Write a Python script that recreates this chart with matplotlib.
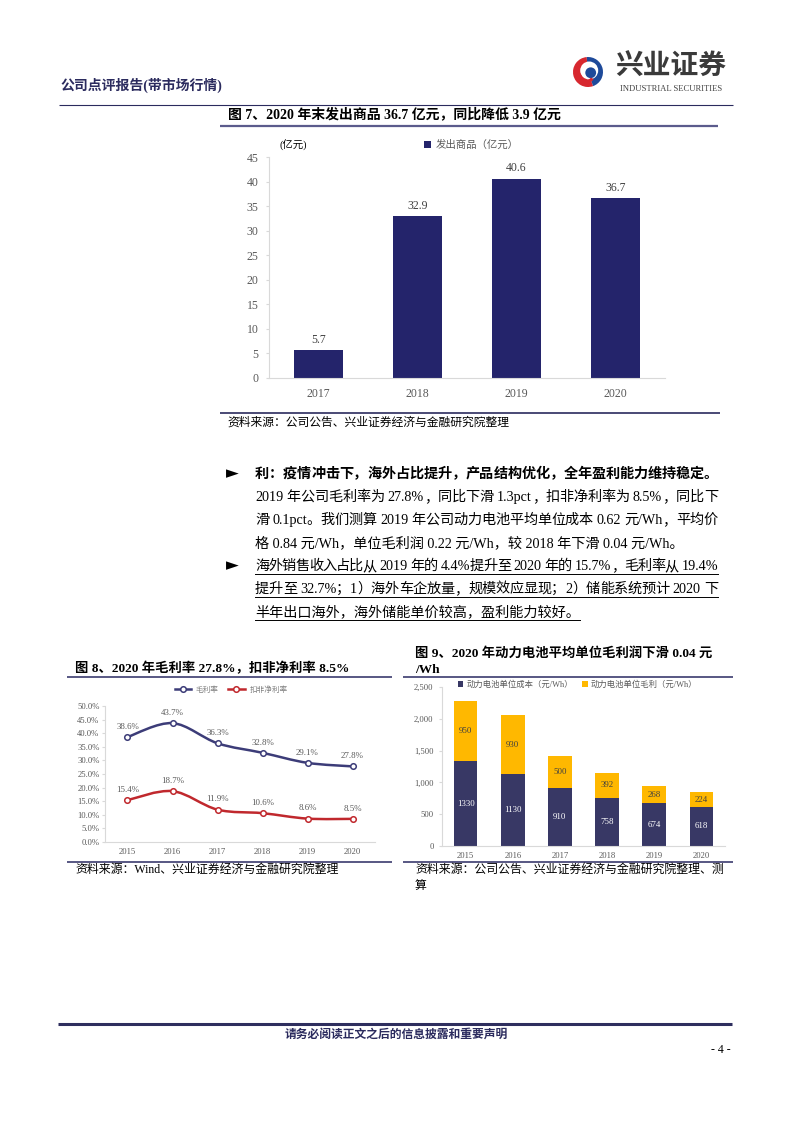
"""Report page 4: figures 7-9 plus the text block between them."""
import re
import numpy as np
import matplotlib
matplotlib.use('Agg')
import matplotlib.pyplot as plt
from matplotlib.patches import Wedge, Circle, Patch, PathPatch
from matplotlib.path import Path
from matplotlib.lines import Line2D
from matplotlib.font_manager import FontProperties
from matplotlib.ticker import FuncFormatter, MultipleLocator

FAM = ['Liberation Serif', 'Noto Sans CJK SC', 'DejaVu Sans']
plt.rcParams['font.family'] = FAM

# ---- data ----
years7 = ['2017', '2018', '2019', '2020']
goods_shipped = [5.7, 32.9, 40.6, 36.7]          # 发出商品（亿元）

years = ['2015', '2016', '2017', '2018', '2019', '2020']
gross_margin = [38.6, 43.7, 36.3, 32.8, 29.1, 27.8]   # 毛利率 %
net_margin = [15.4, 18.7, 11.9, 10.6, 8.6, 8.5]       # 扣非净利率 %

unit_cost = [1330, 1130, 910, 758, 674, 618]          # 元/Wh (x1e-3)
unit_profit = [950, 930, 500, 392, 268, 224]

para1 = ['利：疫情冲击下，海外占比提升，产品结构优化，全年盈利能力维持稳定。',
         '2019 年公司毛利率为 27.8%，同比下滑 1.3pct，扣非净利率为 8.5%，同比下',
         '滑 0.1pct。我们测算 2019 年公司动力电池平均单位成本 0.62 元/Wh，平均价',
         '格 0.84 元/Wh，单位毛利润 0.22 元/Wh，较 2018 年下滑 0.04 元/Wh。']
para2 = ['海外销售收入占比从 2019 年的 4.4%提升至 2020 年的 15.7%，毛利率从 19.4%',
         '提升至 32.7%；1）海外车企放量，规模效应显现；2）储能系统预计 2020 下',
         '半年出口海外，海外储能单价较高，盈利能力较好。']

NAVY = '#2B2B5E'
GREY = '#595959'
W, H = 793, 1122

fig = plt.figure(figsize=(W / 100, H / 100), dpi=100)
ov = fig.add_axes([0, 0, 1, 1])
ov.set_xlim(0, W)
ov.set_ylim(H, 0)
ov.axis('off')
ov.patch.set_visible(False)


def px_axes(x0, y0, x1, y1):
    return fig.add_axes([x0 / W, 1 - y1 / H, (x1 - x0) / W, (y1 - y0) / H])


def hline(y, x0, x1, lw=0.9, color=NAVY):
    ov.plot([x0, x1], [y, y], lw=lw, color=color, solid_capstyle='butt')


def style_axes(ax, size):
    for s in ['top', 'right']:
        ax.spines[s].set_visible(False)
    for s in ['left', 'bottom']:
        ax.spines[s].set_color('#D9D9D9')
        ax.spines[s].set_linewidth(0.8)
    ax.set_facecolor('none')
    ax.tick_params(axis='both', colors='#D9D9D9', labelcolor=GREY, labelsize=size)
    ax.tick_params(axis='x', length=0)


# ---- header ----
ov.text(60, 85, '公司点评报告(带市场行情)', fontsize=10, weight='bold', color=NAVY, va='center')
hline(105, 59, 733, lw=0.8)
lg = fig.add_axes([573 / W, 1 - 87 / H, 30 / W, 30 / H])
lg.set_xlim(-1, 1)
lg.set_ylim(-1, 1)
lg.axis('off')
lg.add_patch(Wedge((0, 0), 1, 95, 290, fc='#D7282F', ec='none'))
lg.add_patch(Wedge((0, 0), 1, -70, 95, fc='#1E4A9A', ec='none'))
lg.add_patch(Circle((0.08, 0.1), 0.6, fc='white', ec='none'))
lg.add_patch(Circle((0.18, -0.05), 0.36, fc='#1E4A9A', ec='none'))
lg.add_patch(Wedge((-0.1, -0.2), 0.55, 180, 330, width=0.22, fc='#D7282F', ec='none'))
ov.text(671, 68, '兴业证券', fontsize=20, weight='bold', color='#3A3A3A', ha='center', va='center')
ov.text(671, 89, 'INDUSTRIAL SECURITIES', fontsize=6.2, color='#444444', ha='center', va='center')

# ---- figure 7 ----
ov.text(228, 114, '图 7、2020 年末发出商品 36.7 亿元，同比降低 3.9 亿元',
        fontsize=10, weight='bold', va='center')
hline(125.5, 220, 718, lw=1.6, color='#5B5B8C')
ax7 = px_axes(269, 157, 665, 378)
x7 = np.arange(len(years7))
ax7.bar(x7, goods_shipped, width=0.5, color='#24246B')
for xi, v in zip(x7, goods_shipped):
    ax7.annotate(f'{v}', (xi, v), xytext=(0, 3), textcoords='offset points',
                 ha='center', va='bottom', fontsize=8.5, color='#404040')
ax7.set_xlim(-0.5, 3.5)
ax7.set_ylim(0, 45)
ax7.yaxis.set_major_locator(MultipleLocator(5))
ax7.set_xticks(x7, years7)
style_axes(ax7, 8.5)
ax7.tick_params(axis='y', length=2.5, pad=5)
ax7.tick_params(axis='x', pad=7)
ax7.legend(handles=[Patch(fc='#24246B')], labels=['发出商品（亿元）'], loc='center',
           bbox_to_anchor=(0.51, 1.054), frameon=False, fontsize=7.5, labelcolor=GREY,
           handlelength=0.7, handleheight=0.7, handletextpad=0.4)
ov.text(280, 145, '(亿元)', fontsize=7.5, va='center')
hline(413, 220, 720, lw=1.2)
ov.text(227, 423, '资料来源：公司公告、兴业证券经济与金融研究院整理', fontsize=8.5, va='center')

# ---- text block ----
rend = fig.canvas.get_renderer()
X0, X1 = 255, 718
BODY_FS = 10.2


def text_w(s, prop):
    return rend.get_text_width_height_descent(s, prop, ismath=False)[0]


def body_line(s, yc, bold=False, justify=True, underline=False):
    prop = FontProperties(family=FAM, size=BODY_FS, weight='bold' if bold else 'normal')
    yb = yc + 5
    full = text_w(s, prop)
    if justify:
        toks = re.findall(r' *(?:[\u2e80-\uffff]|[^\u2e80-\uffff ]+)', s)
        gap = (X1 - X0 - full) / (len(toks) - 1)
        prefix = ''
        for i, tok in enumerate(toks):
            core = tok.strip()
            off = text_w(prefix + tok, prop) - text_w(core, prop)
            ov.text(X0 + off + i * gap, yb, core, fontproperties=prop, va='baseline', ha='left')
            prefix += tok
        end = X1
    else:
        ov.text(X0, yb, s, fontproperties=prop, va='baseline', ha='left')
        end = X0 + full
    if underline:
        ov.plot([X0, end], [yb + 3.5, yb + 3.5], color='black', lw=0.7)


ys1 = [473, 496, 519, 542]
for i, (s, y) in enumerate(zip(para1, ys1)):
    body_line(s, y, bold=(i == 0), justify=(i < len(para1) - 1))
ys2 = [565, 588, 611]
for i, (s, y) in enumerate(zip(para2, ys2)):
    body_line(s, y, justify=(i < len(para2) - 1), underline=True)
for y in [ys1[0], ys2[0]]:
    ov.text(232, y, '►', fontsize=12, family='DejaVu Sans', ha='center', va='center')

# ---- figure 8 ----
ov.text(75, 668, '图 8、2020 年毛利率 27.8%，扣非净利率 8.5%', fontsize=9.6,
        weight='bold', va='center')
hline(677, 67, 392, lw=1.2, color='#3B3B6E')
ax8 = px_axes(105, 706, 375, 842)
x8 = np.arange(len(years))


def smooth_path(xs, ys):
    pts = np.column_stack([xs, ys]).astype(float)
    ext = np.vstack([pts[0], pts, pts[-1]])
    verts, codes = [pts[0]], [Path.MOVETO]
    for i in range(len(pts) - 1):
        p0, p1, p2, p3 = ext[i], ext[i + 1], ext[i + 2], ext[i + 3]
        verts += [p1 + (p2 - p0) / 6, p2 - (p3 - p1) / 6, p2]
        codes += [Path.CURVE4] * 3
    return Path(verts, codes)


handles8 = []
for vals, col, name in [(gross_margin, '#3C3C78', '毛利率'), (net_margin, '#C0282D', '扣非净利率')]:
    ax8.add_patch(PathPatch(smooth_path(x8, vals), fill=False, ec=col, lw=1.8,
                            transform=ax8.transData))
    ax8.plot(x8, vals, 'o', mfc='white', mec=col, ms=4, mew=1.1, zorder=3)
    for xi, v in zip(x8, vals):
        ax8.annotate(f'{v}%', (xi, v), xytext=(0, 4.5), textcoords='offset points',
                     ha='center', va='bottom', fontsize=6.4, color=GREY)
    handles8.append(Line2D([0], [0], color=col, lw=1.8, marker='o', mfc='white', mec=col,
                           ms=4, mew=1.1, label=name))
ax8.set_xlim(-0.5, 5.5)
ax8.set_ylim(0, 50)
ax8.yaxis.set_major_locator(MultipleLocator(5))
ax8.yaxis.set_major_formatter(FuncFormatter(lambda v, _: f'{v:.1f}%'))
ax8.set_xticks(x8, years)
style_axes(ax8, 6.2)
ax8.tick_params(axis='y', length=2, pad=2)
ax8.tick_params(axis='x', pad=4)
ax8.legend(handles=handles8, loc='center', bbox_to_anchor=(0.467, 1.118), ncol=2,
           frameon=False, fontsize=5.5, labelcolor='#7F7F7F', handlelength=2.2,
           handletextpad=0.6, columnspacing=1.2)
hline(862, 67, 392, lw=1.2, color='#3B3B6E')
ov.text(75, 870, '资料来源：Wind、兴业证券经济与金融研究院整理', fontsize=8.6, va='center')

# ---- figure 9 ----
ov.text(415, 653, '图 9、2020 年动力电池平均单位毛利润下滑 0.04 元', fontsize=9.6,
        weight='bold', va='center')
ov.text(415, 670, '/Wh', fontsize=9.6, weight='bold', va='center')
hline(677, 403, 733, lw=1.2, color='#3B3B6E')
ax9 = px_axes(442, 687, 725, 846)
x9 = np.arange(len(years))
b_cost = ax9.bar(x9, unit_cost, width=0.5, color='#383865', label='动力电池单位成本（元/Wh）')
b_prof = ax9.bar(x9, unit_profit, width=0.5, bottom=unit_cost, color='#FFB800',
                 label='动力电池单位毛利（元/Wh）')
ax9.bar_label(b_cost, labels=[str(v) for v in unit_cost], label_type='center',
              fontsize=6.4, color='white')
ax9.bar_label(b_prof, labels=[str(v) for v in unit_profit], label_type='center',
              fontsize=6.4, color='#404040')
ax9.set_xlim(-0.5, 5.5)
ax9.set_ylim(0, 2500)
ax9.yaxis.set_major_locator(MultipleLocator(500))
ax9.yaxis.set_major_formatter(FuncFormatter(lambda v, _: f'{v:,.0f}'))
ax9.set_xticks(x9, years)
style_axes(ax9, 6.2)
ax9.tick_params(axis='y', length=2, pad=4)
ax9.tick_params(axis='x', pad=4)
ax9.legend(loc='center', bbox_to_anchor=(0.479, 1.013), ncol=2, frameon=False,
           fontsize=6, labelcolor=GREY, handlelength=0.7, handleheight=0.7,
           handletextpad=0.4, columnspacing=1.0)
hline(862, 403, 733, lw=1.2, color='#3B3B6E')
ov.text(415, 870, '资料来源：公司公告、兴业证券经济与金融研究院整理、测', fontsize=8.6, va='center')
ov.text(415, 886, '算', fontsize=8.6, va='center')

# ---- footer ----
hline(1023.5, 58, 732, lw=2.2, color='#2E2E5E')
ov.text(396, 1035, '请务必阅读正文之后的信息披露和重要声明', fontsize=8.5, weight='bold',
        color=NAVY, ha='center', va='center')
ov.text(731, 1050, '- 4 -', fontsize=8.5, ha='right', va='center')

fig.savefig('out.png', dpi=100, facecolor='white')
